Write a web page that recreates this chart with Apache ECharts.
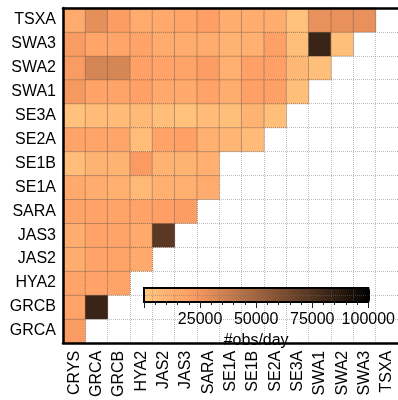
<!DOCTYPE html>
<html><head><meta charset="utf-8">
<script src="https://cdn.jsdelivr.net/npm/echarts@6/dist/echarts.min.js"></script>
<style>html,body{margin:0;padding:0;background:#fff}#c{width:398px;height:400px}</style>
</head><body><div id="c"></div>
<script>
const xCats = ['CRYS','GRCA','GRCB','HYA2','JAS2','JAS3','SARA','SE1A','SE1B','SE2A','SE3A','SWA1','SWA2','SWA3','TSXA'];
const yCats = ['GRCA','GRCB','HYA2','JAS2','JAS3','SARA','SE1A','SE1B','SE2A','SE3A','SWA1','SWA2','SWA3','TSXA'];
// values (#obs/day) per row, columns in xCats order
const rowGRCA = [22000];
const rowGRCB = [18000, 82000];
const rowHYA2 = [18000, 18000, 18000];
const rowJAS2 = [13000, 18000, 18000, 15000];
const rowJAS3 = [13000, 18000, 18000, 15000, 72000];
const rowSARA = [18000, 18000, 18000, 18000, 20000, 21000];
const rowSE1A = [15000, 13000, 12000, 7000, 12000, 12000, 14000];
const rowSE1B = [5000, 10000, 10000, 22000, 10000, 10000, 12000];
const rowSE2A = [18000, 17000, 17000, 5000, 18000, 19000, 12000, 9000, 6000];
const rowSE3A = [3000, 6000, 6000, 7000, 4000, 3000, 6000, 4000, 10000, 4000];
const rowSWA1 = [23000, 18000, 18000, 19000, 15000, 15000, 18000, 13000, 19000, 19000, 4000];
const rowSWA2 = [22000, 33000, 33000, 19000, 18000, 18000, 21000, 12000, 19000, 19000, 8000, 4000];
const rowSWA3 = [22000, 17000, 17000, 18000, 14000, 14000, 14000, 10000, 12000, 19000, 4000, 82000, 4000];
const rowTSXA = [14000, 28000, 21000, 14000, 15000, 17000, 20000, 13000, 13000, 13000, 3000, 27000, 27000, 27000];
const rows = [rowGRCA,rowGRCB,rowHYA2,rowJAS2,rowJAS3,rowSARA,rowSE1A,rowSE1B,rowSE2A,rowSE3A,rowSWA1,rowSWA2,rowSWA3,rowTSXA];
const cbMin = 0, cbMax = 100000, cbInterval = 25000;
const cbName = '#obs/day';

const data = [];
rows.forEach((r, yi) => r.forEach((v, xi) => { if (v != null) data.push([xi, yi, v]); }));

const font = 'Liberation Sans, Arial, Helvetica, sans-serif';
const frameLine = {show: true, lineStyle: {color: '#000', width: 2.5}};
const chart = echarts.init(document.getElementById('c'), null, {renderer: 'canvas'});
chart.setOption({
  animation: false,
  backgroundColor: '#fff',
  grid: [
    {left: 63, top: 8, width: 337, height: 339, show: false},
    {left: 144, top: 288, width: 226, height: 14, show: true, borderColor: '#000', borderWidth: 2, z: 10}
  ],
  xAxis: [
    {type: 'category', data: xCats, gridIndex: 0, z: 5, position: 'bottom',
     axisLine: frameLine, axisTick: {show: false},
     axisLabel: {rotate: 90, margin: 8, color: '#000', fontSize: 16, fontFamily: font},
     splitLine: {show: true, lineStyle: {color: 'rgba(110,110,110,0.45)', type: 'dotted', width: 1}}},
    {type: 'value', gridIndex: 1, min: cbMin, max: cbMax, interval: cbInterval, z: 11,
     axisLine: {show: false},
     axisTick: {show: true, length: 6, lineStyle: {color: '#222', width: 1}},
     minorTick: {show: true, splitNumber: 5, length: 3, lineStyle: {color: '#222', width: 1}},
     splitLine: {show: false},
     axisLabel: {showMinLabel: false, margin: 10, color: '#000', fontSize: 16, fontFamily: font,
                 formatter: v => String(v)},
     name: cbName, nameLocation: 'middle', nameGap: 31,
     nameTextStyle: {color: '#000', fontSize: 16, fontFamily: font}},
    {type: 'category', data: xCats, gridIndex: 0, z: 6, position: 'top',
     axisLine: frameLine, axisTick: {show: false}, axisLabel: {show: false}, splitLine: {show: false}}
  ],
  yAxis: [
    {type: 'category', data: yCats, gridIndex: 0, z: 5,
     axisLine: frameLine, axisTick: {show: false},
     axisLabel: {margin: 7, color: '#000', fontSize: 16, fontFamily: font},
     splitLine: {show: true, lineStyle: {color: 'rgba(110,110,110,0.45)', type: 'dotted', width: 1}}},
    {type: 'value', gridIndex: 1, show: false, min: 0, max: 1}
  ],
  visualMap: {
    type: 'continuous', seriesIndex: 0, min: cbMin, max: cbMax,
    orient: 'horizontal', left: 144, top: 288, itemWidth: 14, itemHeight: 226,
    padding: 0, calculable: false, hoverLink: false, text: null, showLabel: false,
    inRange: {color: ['#ffc77f', '#ff9f65', '#bf784c', '#805033', '#402819', '#000000']}
  },
  series: [{
    type: 'heatmap', xAxisIndex: 0, yAxisIndex: 0, data: data,
    itemStyle: {borderWidth: 1, borderColor: 'rgba(90,60,40,0.4)', borderType: 'dotted'},
    emphasis: {disabled: true}
  }]
});
</script></body></html>
